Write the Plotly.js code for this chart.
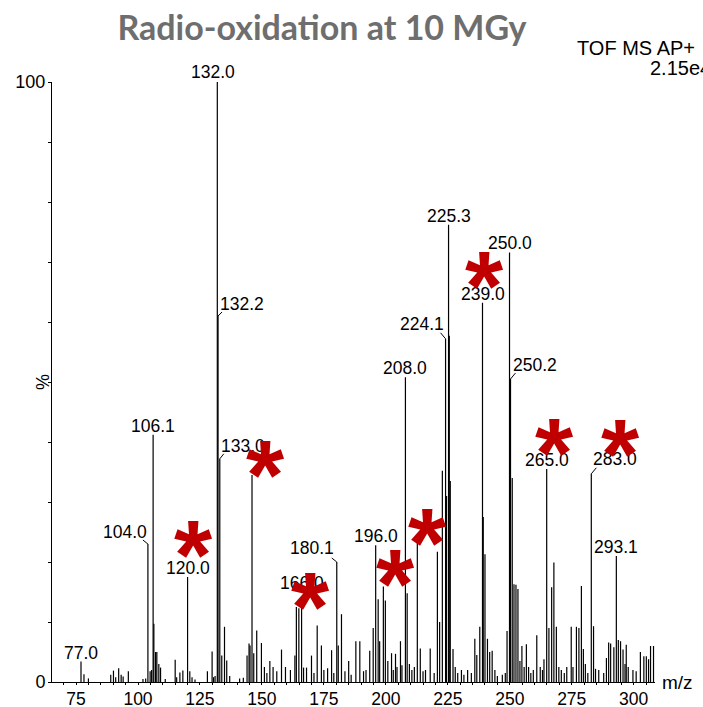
<!DOCTYPE html>
<html>
<head>
<meta charset="utf-8">
<script src="https://cdn.plot.ly/plotly-3.0.1.min.js"></script>
<style>html,body{margin:0;padding:0;background:#fff;}#chart{width:703px;height:707px;}</style>
</head>
<body>
<div id="chart"></div>
<script>
// ---- data: m/z and relative intensity (%) ----
const peakMz = [
  77.0, 78.2, 80.0, 89.0, 90.1, 91.0, 92.2, 93.2, 94.0, 96.1, 102.0, 103.1,
  104.0, 104.9, 105.5, 106.1, 106.4, 107.1, 107.6, 108.4, 109.1, 111.0,
  115.0, 115.6, 116.9, 118.1, 120.0, 120.9, 121.8, 123.0, 128.0, 129.9, 130.5, 131.1,
  132.0, 132.3, 133.0, 133.8, 134.9, 135.8, 137.0, 141.0, 142.5,
  144.0, 144.8, 145.2, 146.0, 146.7, 147.9, 149.8, 151.0, 152.0, 153.2, 154.5, 156.0,
  157.9, 159.5, 161.5, 163.3, 163.9, 164.9, 166.0, 166.8, 168.0, 170.0, 171.0,
  172.3, 174.0, 175.0, 176.5, 178.1, 179.0, 180.2, 180.8, 182.1, 183.5, 185.0, 186.0,
  187.9, 189.5, 191.0, 192.0, 193.5, 194.9, 195.9, 196.9, 197.5, 199.0, 199.8,
  200.8, 202.3, 203.0, 203.9, 204.5, 205.9, 206.5, 207.9, 208.6, 209.5, 210.5, 211.5,
  212.7, 213.9, 215.0, 216.0, 217.9, 219.5, 220.8, 221.7, 222.8, 224.1, 224.5,
  225.3, 225.6, 226.0, 227.1, 228.0, 229.0, 230.5, 231.5, 233.0, 234.5,
  235.9, 236.7, 237.9, 239.0, 239.3, 240.0, 241.0, 241.9, 242.9, 244.0, 245.0, 247.0,
  248.2, 248.9, 249.9, 250.3, 251.0, 251.7, 252.5, 253.3, 254.1, 254.9, 255.8,
  256.7, 257.6, 258.5, 259.5, 260.9, 262.3, 263.2, 263.8, 264.9, 265.8, 266.9,
  267.8, 268.8, 269.8, 270.8, 272.0, 273.0, 274.8, 275.5, 276.9, 277.9, 278.9,
  279.7, 280.5, 281.5, 282.9, 283.8, 284.6, 285.9, 287.9, 289.0, 289.9, 290.7,
  292.0, 293.0, 293.8, 294.7, 295.7, 296.5, 297.0, 297.8, 299.7, 301.0, 302.7,
  304.1, 305.1, 306.0, 306.8, 308.0
];
const peakPct = [
  3.4, 1.3, 0.6, 1.2, 1.9, 0.8, 2.3, 1.2, 0.9, 1.8, 0.5, 0.6,
  23.0, 1.8, 2.0, 41.2, 9.7, 5.0, 5.0, 3.0, 2.4, 0.5,
  3.7, 0.8, 1.6, 1.9, 17.5, 1.8, 0.8, 0.4, 1.8, 5.1, 0.8, 1.0,
  100, 61.0, 37.2, 4.4, 9.2, 3.6, 1.0, 0.6, 0.7,
  4.4, 6.4, 6.1, 34.5, 4.8, 8.6, 6.5, 2.5, 1.5, 3.5, 2.5, 1.8,
  5.4, 2.5, 2.0, 4.4, 12.5, 12.3, 12.8, 2.4, 2.4, 4.4, 1.5,
  9.4, 6.1, 2.0, 2.3, 5.3, 1.5, 20.0, 6.1, 11.3, 1.8, 3.5, 1.2,
  6.8, 6.8, 1.8, 2.0, 5.2, 9.0, 22.8, 13.8, 6.8, 15.9, 13.6,
  3.5, 4.8, 2.0, 4.7, 2.5, 6.8, 2.8, 50.8, 14.8, 3.0, 2.0, 2.5,
  23.3, 5.6, 1.8, 2.0, 5.6, 1.5, 21.7, 10.0, 35.2, 57.2, 31.0,
  76.2, 57.7, 33.5, 5.5, 2.5, 1.5, 2.0, 1.2, 2.0, 1.5,
  7.2, 4.5, 9.2, 63.2, 27.5, 21.3, 7.2, 5.0, 5.2, 2.0, 1.0, 1.2,
  1.5, 8.5, 71.6, 50.5, 34.0, 16.3, 16.2, 15.5, 3.5, 6.0, 2.5,
  6.3, 2.5, 1.5, 2.0, 7.8, 2.5, 2.0, 3.8, 35.5, 9.0, 15.8,
  19.9, 9.2, 2.5, 2.0, 1.5, 2.5, 9.2, 2.5, 9.2, 9.0, 16.0,
  5.5, 3.0, 1.5, 34.7, 9.3, 2.2, 2.0, 1.5, 4.0, 6.6, 6.4,
  5.8, 21.0, 7.0, 6.8, 5.4, 3.0, 6.2, 2.5, 2.0, 1.8, 5.0,
  4.3, 4.3, 3.8, 6.0, 6.0
];

// labelled peaks
const labelText = ["77.0","104.0","106.1","120.0","132.0","132.2","133.0","166.0","180.1","196.0",
                   "208.0","224.1","225.3","239.0","250.0","250.2","265.0","283.0","293.1"];
const labelMz   = [77.0, 104.0, 106.1, 120.0, 132.0, 132.3, 133.0, 166.0, 180.2, 195.9,
                   207.9, 224.1, 225.3, 239.0, 249.9, 250.3, 264.9, 282.9, 293.0];
const labelPct  = [3.4, 23.0, 41.2, 17.5, 100, 61.0, 37.2, 12.8, 20.0, 22.8,
                   50.8, 57.2, 76.2, 63.2, 71.6, 50.5, 35.5, 34.7, 21.0];

// peaks marked with a red star
const starMz  = [122.5, 151.4, 169.5, 203.8, 216.9, 239.7, 268.1, 294.5];
const starPct = [23.8, 37.2, 15.25, 19.0, 25.9, 68.75, 40.8, 40.6];

const xTicks = [75, 100, 125, 150, 175, 200, 225, 250, 275, 300];
const yTicks = [0, 100];

// ---- styling (label offsets in pixels: [dx, dy, leaderDx, leaderDy]) ----
const labelStyle = {
  "104.0": [-23, 12, -5, 4], "132.0": [-4, 10, 0, 0], "132.2": [24, 12, 4, 4],
  "133.0": [23, 13, 4, 5], "166.0": [0, 22, 0, 0], "180.1": [-25, 14, -5, 4],
  "224.1": [-24, 15, -5, 6], "250.2": [24, 14, 5, 6], "283.0": [24, 15, 5, 6]
};
const FONT = "Liberation Sans, Arial, sans-serif";

const xs = [], ys = [];
for (let i = 0; i < peakMz.length; i++) {
  xs.push(peakMz[i], peakMz[i], null);
  ys.push(0, peakPct[i], null);
}

const traces = [{
  type: "scatter", mode: "lines", x: xs, y: ys,
  line: {color: "#000", width: 1.2}, hoverinfo: "skip", showlegend: false
}];

const annotations = [];
const shapes = [];
labelText.forEach((t, i) => {
  const s = labelStyle[t] || [0, 9, 0, 0];
  annotations.push({
    x: labelMz[i], y: labelPct[i], xref: "x", yref: "y", text: t, showarrow: false,
    xanchor: "center", yanchor: "middle", xshift: s[0], yshift: s[1],
    font: {family: FONT, size: 17.5, color: "#000"}
  });
  if (s[2] !== 0) {
    shapes.push({
      type: "line", xref: "x", yref: "y", xsizemode: "pixel", ysizemode: "pixel",
      xanchor: labelMz[i], yanchor: labelPct[i], x0: 0, y0: 0, x1: s[2], y1: s[3],
      line: {color: "#000", width: 1}
    });
  }
});
starMz.forEach((m, i) => {
  annotations.push({
    x: m, y: starPct[i], xref: "x", yref: "y", text: "*", showarrow: false,
    xanchor: "center", yanchor: "middle", yshift: -16,
    font: {family: FONT, size: 98, color: "#c00000", weight: "bold"}
  });
});
annotations.push(
  {xref: "paper", yref: "paper", x: 0.867, y: 1.057, xanchor: "left", yanchor: "middle",
   text: "TOF MS AP+", showarrow: false, font: {family: FONT, size: 20, color: "#000"}},
  {xref: "paper", yref: "paper", x: 0.988, y: 1.023, xanchor: "left", yanchor: "middle",
   text: "2.15e4", showarrow: false, font: {family: FONT, size: 20, color: "#000"}},
  {xref: "paper", yref: "paper", x: 1.008, y: 0.0, xanchor: "left", yanchor: "middle",
   text: "m/z", showarrow: false, font: {family: FONT, size: 19, color: "#000"}},
  {xref: "paper", yref: "paper", x: -0.015, y: 0.5, xanchor: "center", yanchor: "middle",
   text: "%", textangle: -90, showarrow: false, font: {family: FONT, size: 18, color: "#000"}}
);

const layout = {
  width: 703, height: 707,
  margin: {l: 52, r: 48, t: 82, b: 25, pad: 0},
  paper_bgcolor: "#fff", plot_bgcolor: "#fff",
  title: {text: "Radio-oxidation at 10 MGy", x: 0.458, xref: "container", xanchor: "center",
          y: 0.96, yref: "container", yanchor: "middle",
          font: {family: "Lato, Open Sans, sans-serif", size: 34, color: "#6e6e6e", weight: "bold"}},
  xaxis: {range: [65.3, 308.6], tickmode: "array", tickvals: xTicks, ticktext: xTicks.map(String),
          ticks: "outside", ticklen: 1, tickcolor: "#000", showline: true, linecolor: "#000", linewidth: 1,
          showgrid: false, zeroline: false, tickfont: {family: FONT, size: 17.5, color: "#000"},
          minor: {tickmode: "linear", tick0: 0, dtick: 5, ticks: "outside", ticklen: 2, tickcolor: "#000"}},
  yaxis: {range: [0, 100], tickmode: "array", tickvals: yTicks, ticktext: yTicks.map(String),
          ticks: "outside", ticklen: 2, tickcolor: "#000", showline: true, linecolor: "#000", linewidth: 1,
          showgrid: false, zeroline: false, tickfont: {family: FONT, size: 18, color: "#000"},
          minor: {tickmode: "linear", tick0: 0, dtick: 10, ticks: "outside", ticklen: 3, tickcolor: "#000"}},
  annotations: annotations,
  shapes: shapes,
  showlegend: false
};

Plotly.newPlot("chart", traces, layout, {staticPlot: true, displayModeBar: false});
</script>
</body>
</html>
